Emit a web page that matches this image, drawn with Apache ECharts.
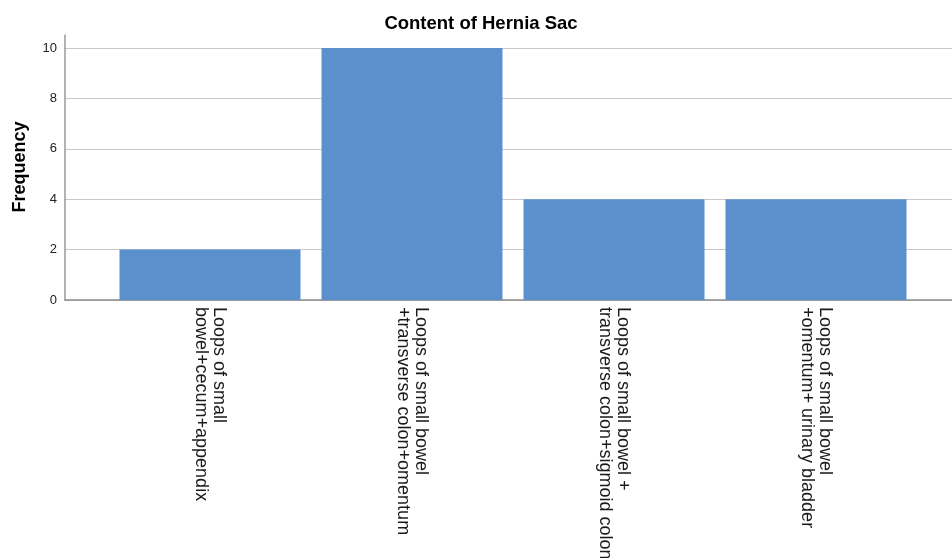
<!DOCTYPE html>
<html>
<head>
<meta charset="utf-8">
<script src="https://cdn.jsdelivr.net/npm/echarts@6/dist/echarts.min.js"></script>
<style>html,body{margin:0;padding:0;background:#fff;}#c{width:952px;height:558px;}</style>
</head>
<body>
<div id="c"></div>
<script>
const categories = [
  "Loops of small\nbowel+cecum+appendix",
  "Loops of small bowel\n+transverse colon+omentum",
  "Loops of small bowel +\ntransverse colon+sigmoid colon",
  "Loops of small bowel\n+omentum+ urinary bladder"
];
const frequency = [2, 10, 4, 4];
const yTicks = [0, 2, 4, 6, 8, 10];

const font = "'Liberation Sans', Arial, sans-serif";
const chart = echarts.init(document.getElementById('c'), null, {renderer: 'canvas'});
chart.setOption({
  animation: false,
  backgroundColor: '#fff',
  title: {
    text: 'Content of Hernia Sac',
    left: 476, top: 9, textAlign: 'center',
    textStyle: {fontFamily: font, fontSize: 18.5, fontWeight: 'bold', color: '#000'}
  },
  grid: [
    {left: 65, right: 0, top: 48, height: 252, outerBoundsMode: 'none', containLabel: false},
    {left: 65, right: 0, top: 35, height: 265, outerBoundsMode: 'none', containLabel: false},
    {left: 109, width: 808, top: 48, height: 252, outerBoundsMode: 'none', containLabel: false}
  ],
  xAxis: [
    {gridIndex: 0, type: 'value', min: 0, max: 1, axisLine: {show: true, onZero: false, lineStyle: {color: '#8c8c8c', width: 1.5}},
     axisTick: {show: false}, axisLabel: {show: false}, splitLine: {show: false}},
    {gridIndex: 1, type: 'value', min: 0, max: 1, show: false},
    {gridIndex: 2, type: 'category', data: categories, boundaryGap: true,
     axisLine: {show: false}, axisTick: {show: false},
     axisLabel: {rotate: -90, interval: 0, margin: 7, fontFamily: font, fontSize: 18, lineHeight: 18, color: '#1a1a1a'}}
  ],
  yAxis: [
    {gridIndex: 0, type: 'value', min: yTicks[0], max: yTicks[yTicks.length - 1], interval: 2,
     name: 'Frequency', nameLocation: 'middle', nameGap: 36, nameRotate: 90,
     nameTextStyle: {fontFamily: font, fontSize: 18, fontWeight: 'bold', color: '#000', padding: [0, 0, 0, 14]},
     axisLine: {show: false}, axisTick: {show: false},
     axisLabel: {margin: 8, fontFamily: font, fontSize: 13, color: '#222'},
     splitLine: {show: true, lineStyle: {color: '#c8c8c8', width: 1.2}}},
    {gridIndex: 1, type: 'value', min: 0, max: 1, axisLine: {show: true, lineStyle: {color: '#999', width: 1.5}},
     axisTick: {show: false}, axisLabel: {show: false}, splitLine: {show: false}},
    {gridIndex: 2, type: 'value', min: 0, max: 10, show: false}
  ],
  series: [{
    type: 'bar', xAxisIndex: 2, yAxisIndex: 2,
    data: frequency, barWidth: 181,
    itemStyle: {color: '#5b90cc'},
    z: 5
  }]
});
</script>
</body>
</html>
